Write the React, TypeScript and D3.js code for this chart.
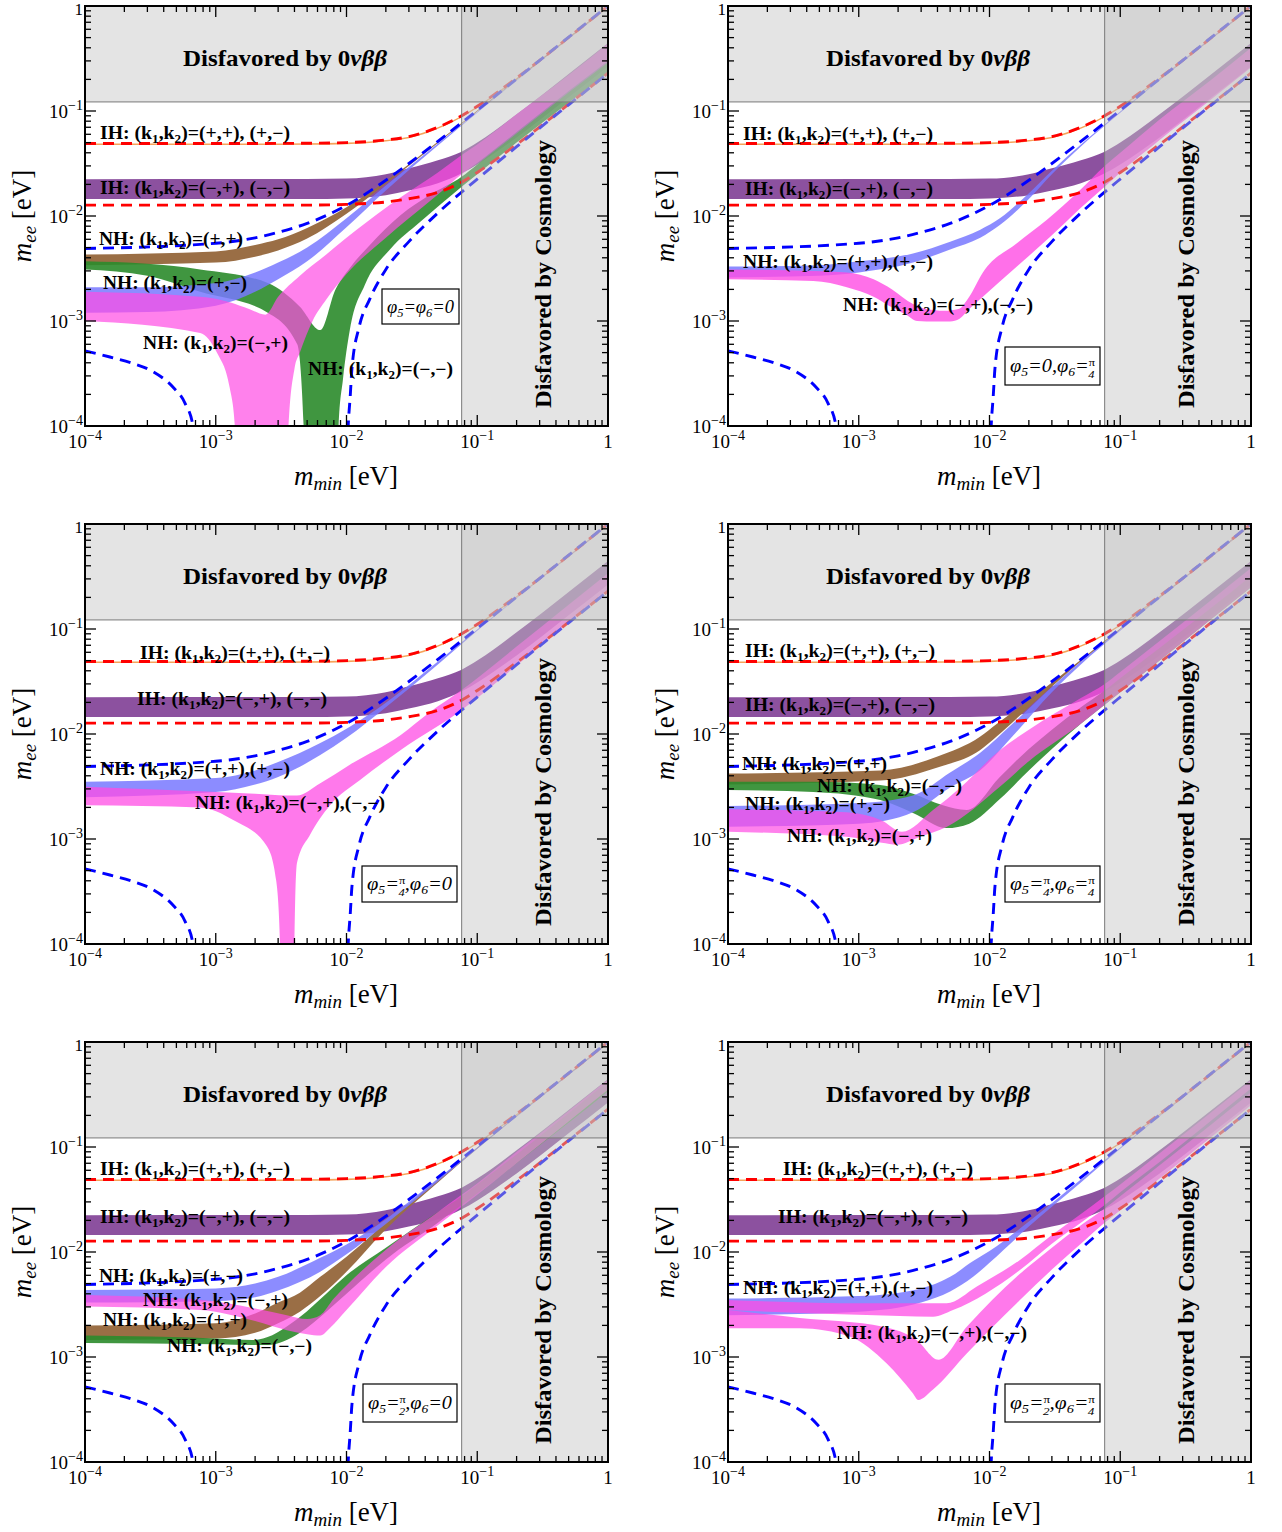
import React from "react";
import * as d3 from "d3";

type P = [number, number];

// ---------- common curves (m_min [eV], m_ee [eV]) ----------
const IH_UPPER: P[] = [[1e-4,0.049],[1e-3,0.049],[5e-3,0.0493],[0.01,0.050],[0.02,0.053],[0.03,0.057],[0.05,0.070],[0.076,0.090],[0.1,0.111],[0.2,0.206],[0.5,0.502],[1,1.0]];
const IH_LOWER: P[] = [[1e-4,0.0127],[1e-3,0.0127],[5e-3,0.0127],[0.01,0.0129],[0.02,0.0136],[0.03,0.0146],[0.05,0.0168],[0.076,0.021],[0.1,0.026],[0.2,0.048],[0.5,0.116],[1,0.23]];
const NH_UPPER: P[] = [[1e-4,0.0049],[1e-3,0.0055],[2e-3,0.0062],[3e-3,0.0070],[5e-3,0.0085],[7e-3,0.0101],[0.01,0.0126],[0.02,0.0219],[0.03,0.0316],[0.05,0.0514],[0.076,0.0773],[0.1,0.1014],[0.2,0.2022],[0.5,0.5048],[1,1.0]];
const NH_LOWER_A: P[] = [[1e-4,0.00052],[1.55e-4,0.000454],[2.25e-4,0.0004],[3.3e-4,0.00033],[4.7e-4,0.000235],[5.8e-4,0.000166],[6.7e-4,0.0001],[7.2e-4,0.00004]];
const NH_LOWER_B: P[] = [[0.0100,0.00004],[0.0103,0.0001],[0.0107,0.0002],[0.011,0.00035],[0.0125,0.00088],[0.015,0.0016],[0.02,0.0031],[0.03,0.0057],[0.05,0.0107],[0.076,0.0169],[0.1,0.0225],[0.2,0.0457],[0.5,0.1146],[1,0.229]];

const IH_NORM_HI: P[] = IH_UPPER;
const IH_NORM_LO: P[] = [[1e-4,0.0474],[1e-3,0.0474],[5e-3,0.0477],[0.01,0.0483],[0.02,0.0512],[0.03,0.055],[0.05,0.0676],[0.076,0.087],[0.1,0.107],[0.2,0.199],[0.5,0.485],[1,0.965]];
const IH_INV_HI: P[] = [[1e-4,0.0224],[5e-3,0.0225],[0.01,0.0227],[0.02,0.025],[0.03,0.0285],[0.05,0.034],[0.076,0.041],[0.1,0.05],[0.2,0.093],[0.5,0.225],[1,0.445]];
const IH_INV_LO: P[] = [[1e-4,0.0145],[5e-3,0.0145],[0.01,0.0147],[0.02,0.0158],[0.03,0.0175],[0.05,0.0205],[0.076,0.0255],[0.1,0.031],[0.2,0.056],[0.5,0.135],[1,0.265]];

const DBD_LIMIT = 0.122;
const COSMO_LIMIT = 0.076;

// ---------- panel 1: phi5 = phi6 = 0 ----------
const P1_BROWN_HI: P[] = [[1e-4,0.0043],[1e-3,0.0046],[2e-3,0.0053],[3e-3,0.006],[5e-3,0.0077],[0.01,0.0121],[0.02,0.0215],[0.05,0.051],[0.1,0.101],[1,1.0]];
const P1_BROWN_LO: P[] = [[1e-4,0.0034],[1e-3,0.0036],[2e-3,0.0041],[3e-3,0.0047],[5e-3,0.0061],[0.01,0.0105],[0.02,0.0203],[0.05,0.0495],[0.1,0.099],[1,0.99]];
const P1_BLUE_HI: P[] = [[1e-4,0.0021],[3e-4,0.0021],[1e-3,0.0023],[2e-3,0.0029],[3e-3,0.0036],[5e-3,0.005],[0.01,0.0095],[0.02,0.0195],[0.05,0.049],[0.1,0.098],[1,0.985]];
const P1_BLUE_LO: P[] = [[1e-4,0.0012],[3e-4,0.00122],[1e-3,0.0014],[2e-3,0.0019],[3e-3,0.0025],[5e-3,0.0037],[0.01,0.0078],[0.02,0.0175],[0.05,0.047],[0.1,0.096],[1,0.975]];
const P1_GREEN_HI: P[] = [[1e-4,0.0037],[3e-4,0.0035],[7.6e-4,0.0031],[2.5e-3,0.0023],[4.4e-3,0.00137],[6.3e-3,0.00082],[8.2e-3,0.00197],[0.0106,0.0032],[0.0151,0.0053],[0.026,0.0102],[0.0435,0.0159],[0.076,0.0236],[0.1,0.031],[0.2,0.061],[0.5,0.15],[1,0.29]];
const P1_GREEN_LO: P[] = [[1e-4,0.0031],[3e-4,0.0027],[7.6e-4,0.0019],[2.5e-3,0.0012],[4.2e-3,0.0006],[4.7e-3,0.0001],[4.85e-3,1e-6],[8.4e-3,1e-6],[8.7e-3,0.0001],[9.4e-3,0.00028],[0.0106,0.00082],[0.0138,0.0022],[0.0215,0.0048],[0.0367,0.0088],[0.076,0.019],[0.1,0.025],[0.2,0.05],[0.5,0.12],[1,0.23]];
const P1_PINK_HI: P[] = [[1e-4,0.0019],[7.6e-4,0.0017],[1.3e-3,0.0015],[1.8e-3,0.0013],[2.4e-3,0.00115],[3e-3,0.0017],[4.4e-3,0.0027],[7e-3,0.0043],[0.01,0.0062],[0.02,0.012],[0.03,0.017],[0.05,0.026],[0.076,0.038],[0.1,0.048],[0.2,0.093],[0.5,0.22],[1,0.44]];
const P1_PINK_LO: P[] = [[1e-4,0.001],[7.6e-4,0.00077],[1.02e-3,0.0005],[1.28e-3,0.00023],[1.4e-3,0.0001],[1.45e-3,1e-6],[3.5e-3,1e-6],[3.6e-3,0.0001],[4e-3,0.00035],[4.4e-3,0.0005],[5.5e-3,0.001],[7e-3,0.0016],[0.01,0.0028],[0.02,0.0062],[0.03,0.0095],[0.05,0.016],[0.076,0.025],[0.1,0.032],[0.2,0.063],[0.5,0.155],[1,0.30]];

// ---------- panel 2: phi5 = 0, phi6 = pi/4 ----------
const P2_BLUE_HI: P[] = [[1e-4,0.0033],[5e-4,0.0034],[1e-3,0.0037],[2.6e-3,0.0044],[5e-3,0.0057],[8.5e-3,0.0074],[0.012,0.0095],[0.02,0.0165],[0.03,0.027],[0.05,0.048],[0.1,0.099],[1,0.99]];
const P2_BLUE_LO: P[] = [[1e-4,0.0026],[5e-4,0.0027],[1e-3,0.0029],[2.6e-3,0.0036],[5e-3,0.0048],[8.5e-3,0.0062],[0.012,0.0082],[0.02,0.0145],[0.03,0.025],[0.05,0.046],[0.1,0.096],[1,0.97]];
const P2_PINK_HI: P[] = [[1e-4,0.0031],[4.5e-4,0.003],[8.1e-4,0.0029],[1.3e-3,0.0025],[1.8e-3,0.002],[2.6e-3,0.00145],[3.3e-3,0.0013],[4.5e-3,0.00125],[5.8e-3,0.0013],[7e-3,0.0017],[8.9e-3,0.0029],[0.0162,0.0055],[0.0275,0.0092],[0.05,0.018],[0.076,0.03],[0.1,0.04],[0.2,0.083],[0.5,0.2],[1,0.4]];
const P2_PINK_LO: P[] = [[1e-4,0.0025],[4.5e-4,0.0024],[8.1e-4,0.0021],[1.3e-3,0.0017],[1.7e-3,0.0014],[2.3e-3,0.00115],[2.8e-3,0.001],[3.3e-3,0.00099],[5e-3,0.00099],[5.9e-3,0.00105],[7e-3,0.0013],[8.9e-3,0.0017],[0.0162,0.0033],[0.029,0.0063],[0.05,0.012],[0.076,0.019],[0.1,0.026],[0.2,0.053],[0.5,0.13],[1,0.26]];

// ---------- panel 3: phi5 = pi/4, phi6 = 0 ----------
const P3_BLUE_HI: P[] = [[1e-4,0.0035],[1e-3,0.0038],[2e-3,0.0045],[3e-3,0.0054],[6.3e-3,0.0082],[0.01,0.0112],[0.02,0.0198],[0.05,0.049],[0.1,0.099],[1,0.99]];
const P3_BLUE_LO: P[] = [[1e-4,0.0025],[1e-3,0.0028],[2e-3,0.0033],[3e-3,0.0039],[6.3e-3,0.0063],[0.01,0.0092],[0.02,0.018],[0.05,0.046],[0.1,0.096],[1,0.97]];
const P3_PINK_HI: P[] = [[1e-4,0.00315],[7.6e-4,0.00285],[2e-3,0.0027],[3.5e-3,0.0026],[4.18e-3,0.0026],[6.3e-3,0.0034],[0.0106,0.0051],[0.026,0.0098],[0.0435,0.0162],[0.076,0.0262],[0.1,0.034],[0.2,0.068],[0.5,0.17],[1,0.34]];
const P3_PINK_LO: P[] = [[1e-4,0.0021],[7.6e-4,0.002],[1.36e-3,0.00152],[2.47e-3,0.00085],[2.9e-3,0.0004],[3.1e-3,0.0001],[3.15e-3,1e-6],[3.9e-3,1e-6],[4.0e-3,0.0001],[4.18e-3,0.00059],[5.25e-3,0.00109],[7.48e-3,0.0021],[0.0127,0.00365],[0.026,0.00704],[0.076,0.0169],[0.1,0.022],[0.2,0.045],[0.5,0.115],[1,0.23]];

// ---------- panel 4: phi5 = pi/4, phi6 = pi/4 ----------
const P4_BROWN_HI: P[] = [[1e-4,0.0042],[1.46e-3,0.0045],[4e-3,0.0061],[8.45e-3,0.0094],[0.0114,0.0125],[0.02,0.021],[0.05,0.051],[0.1,0.101],[1,1.0]];
const P4_BROWN_LO: P[] = [[1e-4,0.0033],[1.46e-3,0.0036],[4e-3,0.0048],[8.45e-3,0.007],[0.0114,0.0095],[0.02,0.018],[0.05,0.049],[0.1,0.099],[1,0.99]];
const P4_BLUE_HI: P[] = [[1e-4,0.00206],[1e-3,0.0022],[2.6e-3,0.0026],[5e-3,0.0043],[8.45e-3,0.0066],[0.015,0.0125],[0.03,0.028],[0.05,0.049],[0.1,0.099],[1,0.99]];
const P4_BLUE_LO: P[] = [[1e-4,0.00131],[1e-3,0.0014],[2.6e-3,0.0018],[5e-3,0.0031],[8.45e-3,0.0045],[0.015,0.0095],[0.03,0.025],[0.05,0.046],[0.1,0.096],[1,0.97]];
const P4_GREEN_HI: P[] = [[1e-4,0.0035],[4.5e-4,0.0035],[1.46e-3,0.00327],[2.6e-3,0.0027],[4.4e-3,0.0021],[6.7e-3,0.00189],[0.012,0.0039],[0.02,0.0072],[0.03,0.011],[0.05,0.018],[0.076,0.026],[0.1,0.034],[0.2,0.066],[0.5,0.16],[1,0.32]];
const P4_GREEN_LO: P[] = [[1e-4,0.00293],[4.5e-4,0.0028],[1.46e-3,0.00235],[2.6e-3,0.00177],[4.7e-3,0.00127],[7e-3,0.0014],[0.012,0.0024],[0.02,0.0045],[0.03,0.0072],[0.05,0.0125],[0.076,0.019],[0.1,0.025],[0.2,0.05],[0.5,0.125],[1,0.25]];
const P4_PINK_HI: P[] = [[1e-4,0.00192],[8e-4,0.0018],[1.5e-3,0.0015],[2.14e-3,0.00117],[3.7e-3,0.00189],[6e-3,0.0031],[0.012,0.007],[0.02,0.011],[0.05,0.022],[0.076,0.03],[0.1,0.039],[0.2,0.077],[0.5,0.19],[1,0.38]];
const P4_PINK_LO: P[] = [[1e-4,0.00117],[8e-4,0.00105],[1.5e-3,0.00092],[1.96e-3,0.00088],[2.94e-3,0.00105],[4.73e-3,0.00131],[0.012,0.00315],[0.02,0.0055],[0.05,0.0125],[0.076,0.019],[0.1,0.025],[0.2,0.05],[0.5,0.125],[1,0.25]];

// ---------- panel 5: phi5 = pi/2, phi6 = 0 ----------
const P5_BLUE_HI: P[] = [[1e-4,0.00435],[1e-3,0.0045],[2e-3,0.005],[3e-3,0.0058],[6.3e-3,0.0088],[0.01,0.0118],[0.02,0.0205],[0.05,0.05],[0.1,0.099],[1,0.99]];
const P5_BLUE_LO: P[] = [[1e-4,0.0033],[1e-3,0.0034],[2e-3,0.0037],[3e-3,0.0043],[6.3e-3,0.0065],[0.01,0.0095],[0.02,0.0185],[0.05,0.047],[0.1,0.096],[1,0.97]];
const P5_PINK_HI: P[] = [[1e-4,0.0039],[7.6e-4,0.0035],[2e-3,0.0029],[3.5e-3,0.0025],[5e-3,0.0023],[6.3e-3,0.0025],[8e-3,0.0036],[0.01,0.0048],[0.02,0.0105],[0.05,0.024],[0.076,0.035],[0.1,0.045],[0.2,0.09],[0.5,0.22],[1,0.44]];
const P5_PINK_LO: P[] = [[1e-4,0.00302],[7.6e-4,0.0028],[2e-3,0.0022],[3.5e-3,0.0018],[5e-3,0.00165],[6.3e-3,0.0016],[7.5e-3,0.0019],[0.01,0.0028],[0.02,0.0072],[0.05,0.018],[0.076,0.027],[0.1,0.035],[0.2,0.07],[0.5,0.175],[1,0.35]];
const P5_BROWN_HI: P[] = [[1e-4,0.002],[1e-3,0.0021],[2e-3,0.0026],[3e-3,0.0033],[4.4e-3,0.0041],[6.3e-3,0.0058],[0.01,0.009],[0.02,0.019],[0.05,0.049],[0.1,0.099],[1,0.99]];
const P5_BROWN_LO: P[] = [[1e-4,0.00145],[1e-3,0.0015],[2e-3,0.0017],[3e-3,0.0021],[4.4e-3,0.0027],[6.3e-3,0.0038],[0.01,0.0065],[0.02,0.0165],[0.05,0.046],[0.1,0.096],[1,0.97]];
const P5_GREEN_HI: P[] = [[1e-4,0.0016],[1e-3,0.0015],[1.9e-3,0.00145],[2.3e-3,0.0015],[4.4e-3,0.0024],[7e-3,0.004],[0.01,0.006],[0.02,0.011],[0.05,0.024],[0.076,0.034],[0.1,0.044],[0.2,0.085],[0.5,0.21],[1,0.42]];
const P5_GREEN_LO: P[] = [[1e-4,0.00136],[1e-3,0.00132],[1.9e-3,0.0013],[2.5e-3,0.0013],[4.4e-3,0.0017],[7e-3,0.0027],[0.01,0.004],[0.02,0.0085],[0.05,0.019],[0.076,0.028],[0.1,0.036],[0.2,0.07],[0.5,0.17],[1,0.34]];

// ---------- panel 6: phi5 = pi/2, phi6 = pi/4 ----------
const P6_BLUE_HI: P[] = [[1e-4,0.0036],[1e-3,0.0038],[3e-3,0.0045],[5e-3,0.0058],[7.5e-3,0.0082],[0.01,0.0102],[0.02,0.0195],[0.05,0.049],[0.1,0.099],[1,0.99]];
const P6_BLUE_LO: P[] = [[1e-4,0.0025],[1e-3,0.0027],[3e-3,0.0033],[5e-3,0.0042],[7.5e-3,0.0058],[0.01,0.0079],[0.02,0.0175],[0.05,0.046],[0.1,0.096],[1,0.97]];
const P6_PINKA_HI: P[] = [[1e-4,0.00349],[1.15e-3,0.00325],[4.7e-3,0.00325],[8e-3,0.0047],[0.0171,0.0084],[0.03,0.0145],[0.05,0.023],[0.076,0.034],[0.1,0.044],[0.2,0.087],[0.5,0.215],[1,0.43]];
const P6_PINKA_LO: P[] = [[1e-4,0.0028],[1.15e-3,0.00251],[3.7e-3,0.00242],[5.26e-3,0.0028],[0.0171,0.00674],[0.03,0.012],[0.05,0.019],[0.076,0.028],[0.1,0.037],[0.2,0.072],[0.5,0.18],[1,0.36]];
const P6_PINKB_HI: P[] = [[1e-4,0.0028],[3.55e-4,0.00235],[1.54e-3,0.00194],[2.77e-3,0.00145],[4.07e-3,0.00094],[6.7e-3,0.00194],[0.0171,0.0062],[0.03,0.011],[0.05,0.018],[0.076,0.026],[0.1,0.034],[0.2,0.067],[0.5,0.165],[1,0.33]];
const P6_PINKB_LO: P[] = [[1e-4,0.00188],[3.55e-4,0.00188],[8.6e-4,0.00156],[1.63e-3,0.00087],[2.6e-3,0.00045],[2.85e-3,0.00039],[3.7e-3,0.00049],[6.7e-3,0.00108],[0.0171,0.00349],[0.03,0.0068],[0.05,0.012],[0.076,0.019],[0.1,0.025],[0.2,0.05],[0.5,0.125],[1,0.25]];

// ---------- tick values ----------
const MAJOR_EXP = [-4, -3, -2, -1, 0];
const MINOR_MULT = [2, 3, 4, 5, 6, 7, 8, 9];

// ---------- styles ----------
const FONT = "'Liberation Serif','Times New Roman',Times,serif";
const C = {
  orange: "#f6a35a",
  purple: "#8c519f",
  brown: "#9a6e45",
  blue: "#7878ff",
  pink: "#ff4ce4",
  green: "#2b8b2b",
};

type Band = { hi: P[]; lo: P[]; color: string; op: number };
type Lab = { h: string; s: string; x: number; y: number; w: number };

const COMMON_BANDS: Band[] = [
  { hi: IH_INV_HI, lo: IH_INV_LO, color: C.purple, op: 1 },
  { hi: IH_NORM_HI, lo: IH_NORM_LO, color: C.orange, op: 1 },
];

const PANEL_BANDS: Band[][] = [
  [
    { hi: P1_BROWN_HI, lo: P1_BROWN_LO, color: C.brown, op: 1 },
    { hi: P1_GREEN_HI, lo: P1_GREEN_LO, color: C.green, op: 0.9 },
    { hi: P1_BLUE_HI, lo: P1_BLUE_LO, color: C.blue, op: 0.85 },
    { hi: P1_PINK_HI, lo: P1_PINK_LO, color: C.pink, op: 0.7 },
  ],
  [
    { hi: P2_BLUE_HI, lo: P2_BLUE_LO, color: C.blue, op: 0.85 },
    { hi: P2_PINK_HI, lo: P2_PINK_LO, color: C.pink, op: 0.8 },
  ],
  [
    { hi: P3_BLUE_HI, lo: P3_BLUE_LO, color: C.blue, op: 0.85 },
    { hi: P3_PINK_HI, lo: P3_PINK_LO, color: C.pink, op: 0.75 },
  ],
  [
    { hi: P4_BROWN_HI, lo: P4_BROWN_LO, color: C.brown, op: 1 },
    { hi: P4_GREEN_HI, lo: P4_GREEN_LO, color: C.green, op: 0.9 },
    { hi: P4_BLUE_HI, lo: P4_BLUE_LO, color: C.blue, op: 0.85 },
    { hi: P4_PINK_HI, lo: P4_PINK_LO, color: C.pink, op: 0.7 },
  ],
  [
    { hi: P5_BROWN_HI, lo: P5_BROWN_LO, color: C.brown, op: 1 },
    { hi: P5_GREEN_HI, lo: P5_GREEN_LO, color: C.green, op: 0.9 },
    { hi: P5_BLUE_HI, lo: P5_BLUE_LO, color: C.blue, op: 0.85 },
    { hi: P5_PINK_HI, lo: P5_PINK_LO, color: C.pink, op: 0.7 },
  ],
  [
    { hi: P6_BLUE_HI, lo: P6_BLUE_LO, color: C.blue, op: 0.85 },
    { hi: P6_PINKA_HI, lo: P6_PINKA_LO, color: C.pink, op: 0.75 },
    { hi: P6_PINKB_HI, lo: P6_PINKB_LO, color: C.pink, op: 0.75 },
  ],
];

const PANEL_LABELS: Lab[][] = [
  [
    { h: "IH", s: "(+,+), (+,−)", x: 15, y: 133, w: 190 },
    { h: "IH", s: "(−,+), (−,−)", x: 15, y: 188, w: 190 },
    { h: "NH", s: "(+,+)", x: 14, y: 239, w: 144 },
    { h: "NH", s: "(+,−)", x: 18, y: 283, w: 144 },
    { h: "NH", s: "(−,+)", x: 58, y: 343, w: 145 },
    { h: "NH", s: "(−,−)", x: 223, y: 369, w: 145 },
  ],
  [
    { h: "IH", s: "(+,+), (+,−)", x: 15, y: 134, w: 190 },
    { h: "IH", s: "(−,+), (−,−)", x: 17, y: 189, w: 188 },
    { h: "NH", s: "(+,+),(+,−)", x: 15, y: 262, w: 190 },
    { h: "NH", s: "(−,+),(−,−)", x: 115, y: 305, w: 190 },
  ],
  [
    { h: "IH", s: "(+,+), (+,−)", x: 55, y: 135, w: 190 },
    { h: "IH", s: "(−,+), (−,−)", x: 52, y: 181, w: 190 },
    { h: "NH", s: "(+,+),(+,−)", x: 15, y: 251, w: 190 },
    { h: "NH", s: "(−,+),(−,−)", x: 110, y: 285, w: 190 },
  ],
  [
    { h: "IH", s: "(+,+), (+,−)", x: 17, y: 133, w: 190 },
    { h: "IH", s: "(−,+), (−,−)", x: 17, y: 187, w: 190 },
    { h: "NH", s: "(+,+)", x: 14, y: 246, w: 145 },
    { h: "NH", s: "(−,−)", x: 89, y: 268, w: 145 },
    { h: "NH", s: "(+,−)", x: 17, y: 286, w: 145 },
    { h: "NH", s: "(−,+)", x: 59, y: 318, w: 145 },
  ],
  [
    { h: "IH", s: "(+,+), (+,−)", x: 15, y: 133, w: 190 },
    { h: "IH", s: "(−,+), (−,−)", x: 15, y: 181, w: 190 },
    { h: "NH", s: "(+,−)", x: 14, y: 240, w: 144 },
    { h: "NH", s: "(−,+)", x: 58, y: 264, w: 145 },
    { h: "NH", s: "(+,+)", x: 18, y: 284, w: 144 },
    { h: "NH", s: "(−,−)", x: 82, y: 310, w: 145 },
  ],
  [
    { h: "IH", s: "(+,+), (+,−)", x: 55, y: 133, w: 190 },
    { h: "IH", s: "(−,+), (−,−)", x: 50, y: 181, w: 190 },
    { h: "NH", s: "(+,+),(+,−)", x: 15, y: 252, w: 190 },
    { h: "NH", s: "(−,+),(−,−)", x: 109, y: 297, w: 190 },
  ],
];

const PANEL_PHASES = ["φ_5=φ_6=0", "φ_5=0,φ_6=π/4", "φ_5=π/4,φ_6=0", "φ_5=π/4,φ_6=π/4", "φ_5=π/2,φ_6=0", "φ_5=π/2,φ_6=π/4"];
const BOXES = [
  { x: 297, y: 283, w: 77, h: 35 },
  { x: 277, y: 341, w: 95, h: 38 },
  { x: 277, y: 342, w: 95, h: 36 },
  { x: 277, y: 342, w: 95, h: 36 },
  { x: 278, y: 342, w: 94, h: 38 },
  { x: 277, y: 342, w: 95, h: 38 },
];

const LAYOUT = [
  { x0: 85, y0: 6 }, { x0: 728, y0: 6 },
  { x0: 85, y0: 524 }, { x0: 728, y0: 524 },
  { x0: 85, y0: 1042 }, { x0: 728, y0: 1042 },
];
const PW = 523, PH = 420;

function PhaseText({ s, x, y, w }: { s: string; x: number; y: number; w: number }) {
  const parts = s.split(/(_\d|π\/\d)/).filter((p) => p.length);
  const nodes: any[] = [];
  let cur = 0;
  parts.forEach((p, i) => {
    if (p.startsWith("_")) {
      nodes.push(<tspan key={i} fontSize={12} dy={4 - cur}>{p.slice(1)}</tspan>);
      cur = 4;
    } else if (p.startsWith("π")) {
      nodes.push(<tspan key={i + "a"} fontSize={11} fontStyle="normal" dy={-6 - cur}>π</tspan>);
      nodes.push(<tspan key={i + "b"} fontSize={11} dx={-6} dy={12}>{p.slice(2)}</tspan>);
      cur = 6;
    } else {
      nodes.push(<tspan key={i} dy={0 - cur}>{p}</tspan>);
      cur = 0;
    }
  });
  return (
    <text x={x} y={y} fontFamily={FONT} fontStyle="italic" fontSize={18} textLength={w} lengthAdjust="spacingAndGlyphs">
      {nodes}
    </text>
  );
}

function Pow({ e, ...rest }: any) {
  if (e === 0) return <text {...rest}>1</text>;
  return (
    <text {...rest}>
      10<tspan fontSize={14} dy={-8}>{"−" + -e}</tspan>
    </text>
  );
}

function Panel({ idx }: { idx: number }) {
  const { x0, y0 } = LAYOUT[idx];
  const xs = d3.scaleLog().domain([1e-4, 1]).range([x0, x0 + PW]);
  const ys = d3.scaleLog().domain([1e-4, 1]).range([y0 + PH, y0]);
  const line = d3
    .line<P>()
    .x((d) => xs(d[0]))
    .y((d) => ys(Math.max(d[1], 1e-7)))
    .curve(d3.curveMonotoneX);
  const bandPath = (hi: P[], lo: P[]) =>
    (line(hi) as string) + (line([...lo].reverse()) as string).replace(/^M/, "L") + "Z";
  const clipId = `clip${idx}`;
  const bands = [...COMMON_BANDS, ...PANEL_BANDS[idx]];

  const ticks: any[] = [];
  MAJOR_EXP.forEach((e) => {
    const v = Math.pow(10, e);
    const X = xs(v), Y = ys(v);
    ticks.push(<line key={"xb" + e} x1={X} x2={X} y1={y0 + PH} y2={y0 + PH - 11} />);
    ticks.push(<line key={"xt" + e} x1={X} x2={X} y1={y0} y2={y0 + 11} />);
    ticks.push(<line key={"yl" + e} x1={x0} x2={x0 + 11} y1={Y} y2={Y} />);
    ticks.push(<line key={"yr" + e} x1={x0 + PW} x2={x0 + PW - 11} y1={Y} y2={Y} />);
  });
  MAJOR_EXP.slice(0, 4).forEach((e) => {
    MINOR_MULT.forEach((m) => {
      const v = m * Math.pow(10, e);
      const X = xs(v), Y = ys(v);
      const k = e + "_" + m;
      ticks.push(<line key={"mxb" + k} x1={X} x2={X} y1={y0 + PH} y2={y0 + PH - 6} />);
      ticks.push(<line key={"mxt" + k} x1={X} x2={X} y1={y0} y2={y0 + 6} />);
      ticks.push(<line key={"myl" + k} x1={x0} x2={x0 + 6} y1={Y} y2={Y} />);
      ticks.push(<line key={"myr" + k} x1={x0 + PW} x2={x0 + PW - 6} y1={Y} y2={Y} />);
    });
  });

  const box = BOXES[idx];
  const xC = xs(COSMO_LIMIT);
  const yD = ys(DBD_LIMIT);
  const dash = { fill: "none", strokeWidth: 2.9, strokeDasharray: "11,7" };

  return (
    <g>
      <defs>
        <clipPath id={clipId}>
          <rect x={x0} y={y0} width={PW} height={PH} />
        </clipPath>
      </defs>
      <g clipPath={`url(#${clipId})`}>
        {bands.map((b, i) => (
          <path key={i} d={bandPath(b.hi, b.lo)} fill={b.color} fillOpacity={b.op} stroke="none" />
        ))}
        <path d={line(IH_UPPER) as string} stroke="#ff0000" {...dash} />
        <path d={line(IH_LOWER) as string} stroke="#ff0000" {...dash} />
        <path d={line(NH_UPPER) as string} stroke="#0000ff" {...dash} />
        <path d={line(NH_LOWER_A) as string} stroke="#0000ff" {...dash} />
        <path d={line(NH_LOWER_B) as string} stroke="#0000ff" {...dash} />
        <rect x={x0} y={y0} width={PW} height={yD - y0} fill="#c4c4c4" fillOpacity={0.45} />
        <rect x={xC} y={y0} width={x0 + PW - xC} height={PH} fill="#c4c4c4" fillOpacity={0.45} />
        <line x1={x0} x2={x0 + PW} y1={yD} y2={yD} stroke="#7a7a7a" strokeWidth={1} />
        <line x1={xC} x2={xC} y1={y0} y2={y0 + PH} stroke="#7a7a7a" strokeWidth={1} />
      </g>

      {PANEL_LABELS[idx].map((l, i) => (
        <text key={i} x={x0 + l.x} y={y0 + l.y} fontFamily={FONT} fontWeight="bold" fontSize={18}
          textLength={l.w} lengthAdjust="spacingAndGlyphs">
          {l.h}: (k<tspan fontSize={12} dy={4}>1</tspan>
          <tspan dy={-4}>,k</tspan>
          <tspan fontSize={12} dy={4}>2</tspan>
          <tspan dy={-4}>){"=" + l.s}</tspan>
        </text>
      ))}

      <text x={x0 + 98} y={y0 + 60} fontFamily={FONT} fontWeight="bold" fontSize={24} textLength={204} lengthAdjust="spacingAndGlyphs">
        Disfavored by 0<tspan fontStyle="italic">νββ</tspan>
      </text>
      <text transform={`translate(${x0 + 466},${y0 + 402}) rotate(-90)`} fontFamily={FONT} fontWeight="bold" fontSize={24}
        textLength={268} lengthAdjust="spacingAndGlyphs">
        Disfavored by Cosmology
      </text>

      <rect x={x0 + box.x} y={y0 + box.y} width={box.w} height={box.h} fill="white" stroke="black" strokeWidth={1.2} />
      <PhaseText s={PANEL_PHASES[idx]} x={x0 + box.x + 5} y={y0 + box.y + box.h / 2 + 6} w={box.w - 10} />

      <g stroke="black" strokeWidth={1.3}>{ticks}</g>
      <rect x={x0} y={y0} width={PW} height={PH} fill="none" stroke="black" strokeWidth={2} />

      {MAJOR_EXP.map((e) => (
        <Pow key={"ly" + e} e={e} x={x0 - 2} y={ys(Math.pow(10, e)) + (e === 0 ? 9 : 7)} textAnchor="end"
          fontFamily={FONT} fontSize={e === 0 ? 17 : 19} />
      ))}
      {MAJOR_EXP.map((e) => (
        <Pow key={"lx" + e} e={e} x={xs(Math.pow(10, e))} y={y0 + PH + 22} textAnchor="middle"
          fontFamily={FONT} fontSize={19} />
      ))}

      <text transform={`translate(${x0 - 54},${y0 + 210}) rotate(-90)`} textAnchor="middle" fontFamily={FONT} fontSize={27}>
        <tspan fontStyle="italic">m</tspan>
        <tspan fontStyle="italic" fontSize={19} dy={5}>ee</tspan>
        <tspan dy={-5}> [eV]</tspan>
      </text>
      <text x={x0 + 261} y={y0 + PH + 59} textAnchor="middle" fontFamily={FONT} fontSize={27}>
        <tspan fontStyle="italic">m</tspan>
        <tspan fontStyle="italic" fontSize={19} dy={5}>min</tspan>
        <tspan dy={-5}> [eV]</tspan>
      </text>
    </g>
  );
}

export default function App() {
  return (
    <svg width={1282} height={1532} style={{ position: "absolute", left: 0, top: 0, background: "white" }}>
      <rect x={0} y={0} width={1282} height={1532} fill="white" />
      {LAYOUT.map((_, i) => (
        <Panel key={i} idx={i} />
      ))}
    </svg>
  );
}
